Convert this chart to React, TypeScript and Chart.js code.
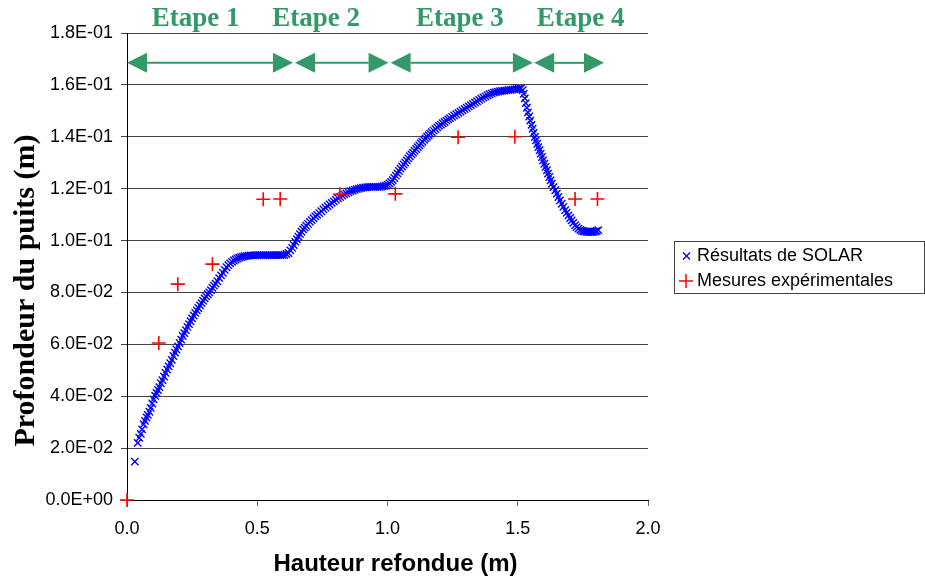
import { useEffect, useRef } from "react";
import { Chart, registerables } from "chart.js";

Chart.register(...registerables);

const seriesNames = ["Résultats de SOLAR", "Mesures expérimentales"];
const xTitle = "Hauteur refondue (m)";
const yTitle = "Profondeur du puits (m)";
const xTickLabels = ["0.0", "0.5", "1.0", "1.5", "2.0"];
const yTickLabels = [
  "0.0E+00", "2.0E-02", "4.0E-02", "6.0E-02", "8.0E-02",
  "1.0E-01", "1.2E-01", "1.4E-01", "1.6E-01", "1.8E-01",
];

const stageLabels = ["Etape 1", "Etape 2", "Etape 3", "Etape 4"];
const stageStart = [0, 0.645, 1.012, 1.563];
const stageEnd = [0.637, 1.004, 1.558, 1.831];
const stageLabelX = [0.263, 0.726, 1.278, 1.741];
const stageArrowY = 0.1685;

// Mesures expérimentales
const expX = [0, 0.122, 0.195, 0.328, 0.523, 0.588, 0.817, 1.03, 1.271, 1.489, 1.72, 1.806];
const expY = [0, 0.0605, 0.0832, 0.0909, 0.1159, 0.116, 0.1178, 0.118, 0.1398, 0.14, 0.116, 0.116];

// Résultats de SOLAR
const solarX = [
  0.030, 0.041, 0.047, 0.053, 0.058, 0.064, 0.069, 0.075, 0.080, 0.086,
  0.091, 0.097, 0.102, 0.108, 0.113, 0.119, 0.124, 0.130, 0.136, 0.142,
  0.148, 0.154, 0.160, 0.166, 0.172, 0.178, 0.184, 0.190, 0.196, 0.202,
  0.208, 0.214, 0.220, 0.226, 0.232, 0.238, 0.244, 0.250, 0.256, 0.262,
  0.268, 0.274, 0.280, 0.286, 0.292, 0.298, 0.304, 0.310, 0.316, 0.322,
  0.328, 0.334, 0.340, 0.347, 0.354, 0.361, 0.368, 0.375, 0.382, 0.389,
  0.396, 0.403, 0.410, 0.417, 0.424, 0.431, 0.438, 0.445, 0.452, 0.460,
  0.468, 0.476, 0.484, 0.492, 0.500, 0.508, 0.516, 0.524, 0.532, 0.540,
  0.548, 0.556, 0.564, 0.572, 0.580, 0.588, 0.596, 0.604, 0.612, 0.620,
  0.627, 0.634, 0.640, 0.646, 0.652, 0.658, 0.664, 0.670, 0.676, 0.682,
  0.688, 0.695, 0.702, 0.709, 0.716, 0.723, 0.730, 0.738, 0.746, 0.754,
  0.762, 0.770, 0.778, 0.786, 0.794, 0.802, 0.810, 0.818, 0.826, 0.834,
  0.842, 0.850, 0.858, 0.866, 0.874, 0.882, 0.890, 0.898, 0.906, 0.914,
  0.922, 0.930, 0.938, 0.946, 0.954, 0.962, 0.970, 0.978, 0.986, 0.994,
  1.001, 1.008, 1.014, 1.020, 1.026, 1.032, 1.038, 1.044, 1.050, 1.056,
  1.062, 1.068, 1.074, 1.080, 1.086, 1.092, 1.098, 1.104, 1.110, 1.116,
  1.122, 1.128, 1.134, 1.140, 1.146, 1.152, 1.158, 1.164, 1.170, 1.177,
  1.184, 1.191, 1.198, 1.205, 1.212, 1.219, 1.226, 1.233, 1.240, 1.248,
  1.256, 1.264, 1.272, 1.280, 1.288, 1.296, 1.304, 1.312, 1.320, 1.328,
  1.336, 1.344, 1.352, 1.360, 1.368, 1.376, 1.384, 1.392, 1.400, 1.408,
  1.416, 1.424, 1.432, 1.440, 1.448, 1.456, 1.464, 1.472, 1.480, 1.488,
  1.496, 1.504, 1.512, 1.519, 1.523, 1.527, 1.531, 1.535, 1.539, 1.544,
  1.548, 1.553, 1.557, 1.561, 1.566, 1.570, 1.575, 1.579, 1.584, 1.588,
  1.593, 1.597, 1.602, 1.607, 1.612, 1.616, 1.621, 1.626, 1.631, 1.637,
  1.644, 1.650, 1.656, 1.662, 1.669, 1.675, 1.682, 1.688, 1.695, 1.701,
  1.707, 1.713, 1.720, 1.726, 1.733, 1.740, 1.746, 1.752, 1.758, 1.765,
  1.771, 1.778, 1.784, 1.790, 1.797, 1.803, 1.809,
];
const solarY = [
  0.0148, 0.0220, 0.0240, 0.0255, 0.0272, 0.0292, 0.0305, 0.0318, 0.0328, 0.0340,
  0.0355, 0.0372, 0.0388, 0.0402, 0.0413, 0.0424, 0.0435, 0.0450, 0.0462, 0.0476,
  0.0490, 0.0503, 0.0515, 0.0527, 0.0540, 0.0555, 0.0568, 0.0580, 0.0592, 0.0605,
  0.0618, 0.0632, 0.0643, 0.0655, 0.0667, 0.0678, 0.0689, 0.0700, 0.0711, 0.0721,
  0.0731, 0.0740, 0.0750, 0.0759, 0.0768, 0.0777, 0.0785, 0.0793, 0.0800, 0.0809,
  0.0818, 0.0826, 0.0834, 0.0843, 0.0855, 0.0866, 0.0876, 0.0887, 0.0897, 0.0905,
  0.0912, 0.0918, 0.0923, 0.0927, 0.0931, 0.0934, 0.0936, 0.0938, 0.0940, 0.0941,
  0.0942, 0.0943, 0.0943, 0.0944, 0.0944, 0.0944, 0.0944, 0.0944, 0.0944, 0.0944,
  0.0944, 0.0944, 0.0944, 0.0944, 0.0944, 0.0944, 0.0944, 0.0945, 0.0948, 0.0952,
  0.0962, 0.0972, 0.0983, 0.0995, 0.1005, 0.1015, 0.1025, 0.1034, 0.1043, 0.1050,
  0.1057, 0.1064, 0.1072, 0.1079, 0.1086, 0.1093, 0.1099, 0.1106, 0.1113, 0.1120,
  0.1127, 0.1133, 0.1139, 0.1145, 0.1151, 0.1157, 0.1163, 0.1168, 0.1173, 0.1178,
  0.1182, 0.1186, 0.1190, 0.1193, 0.1196, 0.1198, 0.1200, 0.1202, 0.1204, 0.1205,
  0.1206, 0.1207, 0.1207, 0.1207, 0.1207, 0.1207, 0.1207, 0.1208, 0.1210, 0.1212,
  0.1215, 0.1220, 0.1226, 0.1233, 0.1241, 0.1250, 0.1259, 0.1268, 0.1277, 0.1285,
  0.1293, 0.1301, 0.1309, 0.1317, 0.1325, 0.1332, 0.1339, 0.1346, 0.1353, 0.1360,
  0.1367, 0.1374, 0.1381, 0.1388, 0.1394, 0.1400, 0.1406, 0.1412, 0.1418, 0.1424,
  0.1430, 0.1436, 0.1442, 0.1447, 0.1452, 0.1457, 0.1462, 0.1467, 0.1472, 0.1477,
  0.1482, 0.1487, 0.1492, 0.1497, 0.1502, 0.1507, 0.1512, 0.1517, 0.1522, 0.1527,
  0.1532, 0.1537, 0.1542, 0.1547, 0.1552, 0.1556, 0.1560, 0.1564, 0.1567, 0.1570,
  0.1572, 0.1574, 0.1576, 0.1577, 0.1578, 0.1579, 0.1580, 0.1581, 0.1582, 0.1583,
  0.1584, 0.1585, 0.1586, 0.1580, 0.1566, 0.1548, 0.1530, 0.1512, 0.1494, 0.1478,
  0.1462, 0.1446, 0.1431, 0.1415, 0.1399, 0.1386, 0.1373, 0.1360, 0.1348, 0.1335,
  0.1322, 0.1309, 0.1296, 0.1284, 0.1271, 0.1258, 0.1245, 0.1232, 0.1219, 0.1206,
  0.1194, 0.1181, 0.1168, 0.1155, 0.1142, 0.1130, 0.1117, 0.1107, 0.1097, 0.1087,
  0.1078, 0.1068, 0.1059, 0.1052, 0.1046, 0.1041, 0.1038, 0.1036, 0.1035, 0.1034,
  0.1033, 0.1033, 0.1033, 0.1034, 0.1035, 0.1037, 0.1040,
];

const GREEN = "#339966";
const SANS = "'Liberation Sans', Arial, sans-serif";
const SERIF = "'Liberation Serif', 'Times New Roman', serif";

const overlayPlugin = {
  id: "overlay",
  afterDraw(chart: any) {
    const { ctx, chartArea } = chart;
    const xs = chart.scales.x;
    const ys = chart.scales.y;
    ctx.save();

    // Stage arrows
    ctx.fillStyle = GREEN;
    ctx.strokeStyle = GREEN;
    const ay = ys.getPixelForValue(stageArrowY);
    const head = 20;
    const half = 10;
    for (let i = 0; i < stageLabels.length; i++) {
      const x0 = xs.getPixelForValue(stageStart[i]);
      const x1 = xs.getPixelForValue(stageEnd[i]);
      ctx.lineWidth = 2;
      ctx.beginPath();
      ctx.moveTo(x0 + head, ay);
      ctx.lineTo(x1 - head, ay);
      ctx.stroke();
      ctx.beginPath();
      ctx.moveTo(x0, ay);
      ctx.lineTo(x0 + head, ay - half);
      ctx.lineTo(x0 + head, ay + half);
      ctx.closePath();
      ctx.fill();
      ctx.beginPath();
      ctx.moveTo(x1, ay);
      ctx.lineTo(x1 - head, ay - half);
      ctx.lineTo(x1 - head, ay + half);
      ctx.closePath();
      ctx.fill();
      ctx.font = `bold 27px ${SERIF}`;
      ctx.textAlign = "center";
      ctx.textBaseline = "alphabetic";
      ctx.fillText(stageLabels[i], xs.getPixelForValue(stageLabelX[i]), chartArea.top - 7);
    }

    // Axis titles
    ctx.fillStyle = "#000";
    ctx.font = `bold 24px ${SANS}`;
    ctx.textAlign = "center";
    ctx.textBaseline = "middle";
    ctx.fillText(xTitle, (chartArea.left + chartArea.right) / 2 + 8, 564);

    ctx.save();
    ctx.translate(34, (chartArea.top + chartArea.bottom) / 2 + 24);
    ctx.rotate(-Math.PI / 2);
    ctx.font = `bold 30px ${SERIF}`;
    ctx.textAlign = "center";
    ctx.textBaseline = "alphabetic";
    ctx.fillText(yTitle, 0, 0);
    ctx.restore();

    // Legend
    const lx = chartArea.right + 26;
    const ly = 241;
    const lw = 250;
    const lh = 52;
    ctx.strokeStyle = "#444";
    ctx.lineWidth = 1;
    ctx.strokeRect(lx + 0.5, ly + 0.5, lw, lh);
    const r1 = ly + 15;
    const r2 = ly + 40;
    // blue x
    ctx.strokeStyle = "#0000FF";
    ctx.lineWidth = 1.3;
    ctx.beginPath();
    ctx.moveTo(lx + 9, r1 - 3.5);
    ctx.lineTo(lx + 16, r1 + 3.5);
    ctx.moveTo(lx + 16, r1 - 3.5);
    ctx.lineTo(lx + 9, r1 + 3.5);
    ctx.stroke();
    // red +
    ctx.strokeStyle = "#FF0000";
    ctx.lineWidth = 1.5;
    ctx.beginPath();
    ctx.moveTo(lx + 5, r2);
    ctx.lineTo(lx + 19, r2);
    ctx.moveTo(lx + 12, r2 - 7);
    ctx.lineTo(lx + 12, r2 + 7);
    ctx.stroke();
    ctx.fillStyle = "#000";
    ctx.font = `18px ${SANS}`;
    ctx.textAlign = "left";
    ctx.textBaseline = "middle";
    ctx.fillText(seriesNames[0], lx + 23, r1);
    ctx.fillText(seriesNames[1], lx + 23, r2);

    ctx.restore();
  },
};

export default function App() {
  const canvasRef = useRef<HTMLCanvasElement | null>(null);

  useEffect(() => {
    if (!canvasRef.current) return;
    const chart = new Chart(canvasRef.current, {
      type: "scatter",
      data: {
        datasets: [
          {
            label: seriesNames[0],
            data: solarX.map((x, i) => ({ x, y: solarY[i] })),
            pointStyle: "crossRot",
            pointRadius: 5.2,
            pointBorderWidth: 1.4,
            borderColor: "#0000FF",
            backgroundColor: "#0000FF",
            showLine: false,
            order: 1,
          },
          {
            label: seriesNames[1],
            data: expX.map((x, i) => ({ x, y: expY[i] })),
            pointStyle: "cross",
            pointRadius: 7,
            pointBorderWidth: 1.6,
            borderColor: "#FF0000",
            backgroundColor: "#FF0000",
            showLine: false,
            order: 0,
          },
        ],
      },
      options: {
        animation: false,
        responsive: false,
        clip: false as any,
        layout: { padding: { left: 0, right: 277, top: 33, bottom: 0 } },
        plugins: {
          legend: { display: false },
          tooltip: { enabled: false },
        },
        scales: {
          x: {
            type: "linear",
            min: 0,
            max: 2,
            afterFit: (s: any) => {
              s.height = 77;
            },
            ticks: {
              stepSize: 0.5,
              padding: 12,
              color: "#000",
              font: { family: SANS, size: 18 },
              callback: (_v: any, i: number) => xTickLabels[i],
            },
            grid: {
              drawOnChartArea: false,
              drawTicks: true,
              tickLength: 6,
              color: "#666",
            },
            border: { display: true, color: "#000", width: 1 },
          },
          y: {
            type: "linear",
            min: 0,
            max: 0.18,
            afterFit: (s: any) => {
              s.width = 127;
            },
            ticks: {
              stepSize: 0.02,
              padding: 8,
              color: "#000",
              font: { family: SANS, size: 18 },
              callback: (_v: any, i: number) => yTickLabels[i],
            },
            grid: {
              color: "#444",
              lineWidth: 1,
              tickLength: 6,
            },
            border: { display: true, color: "#000", width: 1 },
          },
        },
      },
      plugins: [overlayPlugin],
    });
    return () => chart.destroy();
  }, []);

  return (
    <div style={{ position: "absolute", left: 0, top: 0, width: 925, height: 577, background: "#fff" }}>
      <canvas ref={canvasRef} width={925} height={577} style={{ width: 925, height: 577 }} />
    </div>
  );
}
